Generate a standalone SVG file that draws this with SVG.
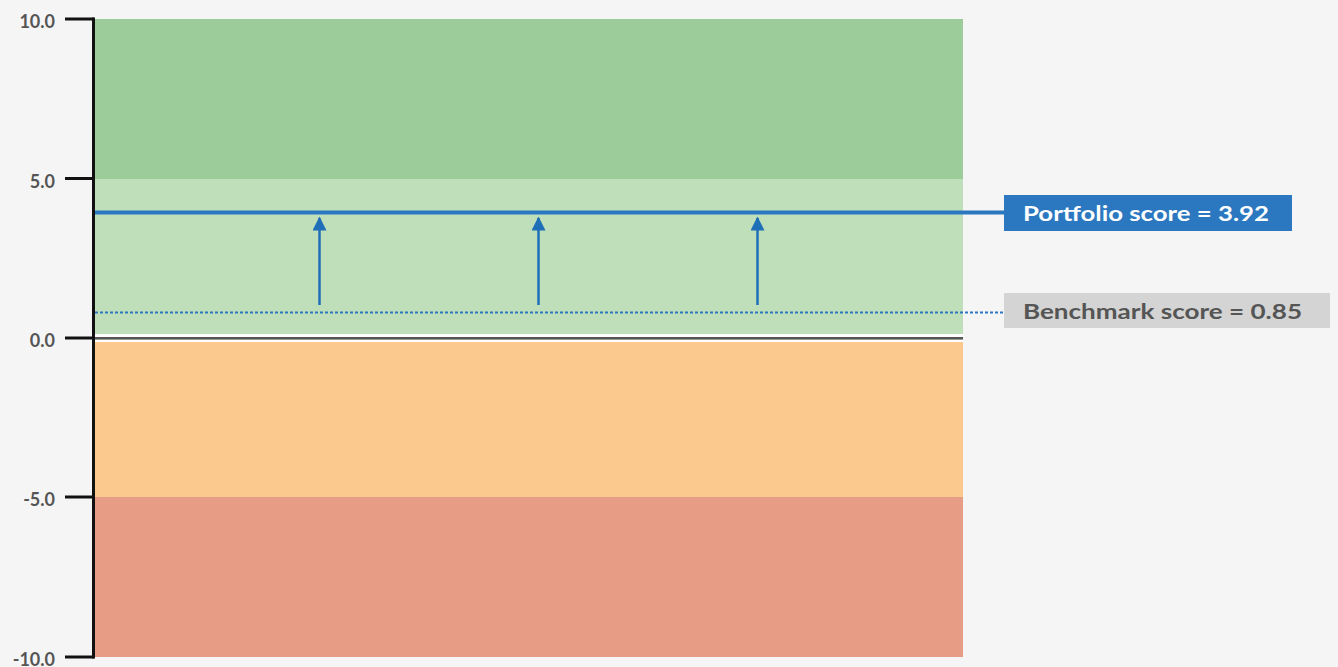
<svg xmlns="http://www.w3.org/2000/svg" width="1338" height="667" viewBox="0 0 1338 667">
<style>
.ax{font-family:Lato,"Open Sans","Liberation Sans",sans-serif;font-weight:700;font-size:18px;fill:#555;text-anchor:end}
.lbl{font-family:Lato,"Open Sans","Liberation Sans",sans-serif;font-weight:700;font-size:21px}
.tick{stroke:#111;stroke-width:3}
.arr{stroke:#1f6fb8;stroke-width:2.5;fill:none}
</style>
<defs>
<marker id="ah" viewBox="0 0 10 10" refX="9" refY="5" markerWidth="18" markerHeight="14" markerUnits="userSpaceOnUse" orient="auto">
<path d="M0,0 L10,5 L0,10 Z" fill="#1f6fb8"/>
</marker>
</defs>
<rect width="1338" height="667" fill="#f5f5f5"/>
<g id="bands">
<rect x="95" y="19" width="868" height="160" fill="#9ccc9a"/>
<rect x="95" y="179" width="868" height="155" fill="#bfdfbb"/>
<rect x="95" y="334" width="868" height="8" fill="#ffffff"/>
<rect x="95" y="337" width="868" height="2" fill="#555"/>
<rect x="95" y="339" width="868" height="1" fill="#999"/>
<rect x="95" y="342" width="868" height="155" fill="#fbc98d"/>
<rect x="95" y="497" width="868" height="160" fill="#e79c85"/>
</g>
<g id="axis">
<line x1="93.5" y1="17.5" x2="93.5" y2="658.5" class="tick"/>
<line x1="65" y1="19" x2="94" y2="19" class="tick"/>
<line x1="65" y1="178.5" x2="94" y2="178.5" class="tick"/>
<line x1="65" y1="338" x2="94" y2="338" class="tick"/>
<line x1="65" y1="497" x2="94" y2="497" class="tick"/>
<line x1="65" y1="657" x2="94" y2="657" class="tick"/>
<text x="55" y="28" class="ax">10.0</text>
<text x="55" y="187.5" class="ax">5.0</text>
<text x="55" y="347" class="ax">0.0</text>
<text x="55" y="506" class="ax">-5.0</text>
<text x="55" y="666" class="ax">-10.0</text>
</g>
<g id="connectors">
<line x1="95" y1="212.5" x2="1004" y2="212.5" stroke="#2b78c0" stroke-width="4"/>
<line x1="95" y1="312.5" x2="1004" y2="312.5" stroke="#2b78c0" stroke-width="2" stroke-dasharray="3 2"/>
<line x1="319.5" y1="305" x2="319.5" y2="218" class="arr" marker-end="url(#ah)"/>
<line x1="538.5" y1="305" x2="538.5" y2="218" class="arr" marker-end="url(#ah)"/>
<line x1="757.5" y1="305" x2="757.5" y2="218" class="arr" marker-end="url(#ah)"/>
</g>
<g id="portfolio">
<rect x="1004" y="195" width="288" height="36" fill="#2b78c0"/>
<text x="1023" y="220.5" class="lbl" fill="#ffffff" textLength="246" lengthAdjust="spacingAndGlyphs">Portfolio score = 3.92</text>
</g>
<g id="benchmark">
<rect x="1004" y="293" width="326" height="35" fill="#d3d4d3"/>
<text x="1023" y="319" class="lbl" fill="#555" textLength="279" lengthAdjust="spacingAndGlyphs">Benchmark score = 0.85</text>
</g>
</svg>
